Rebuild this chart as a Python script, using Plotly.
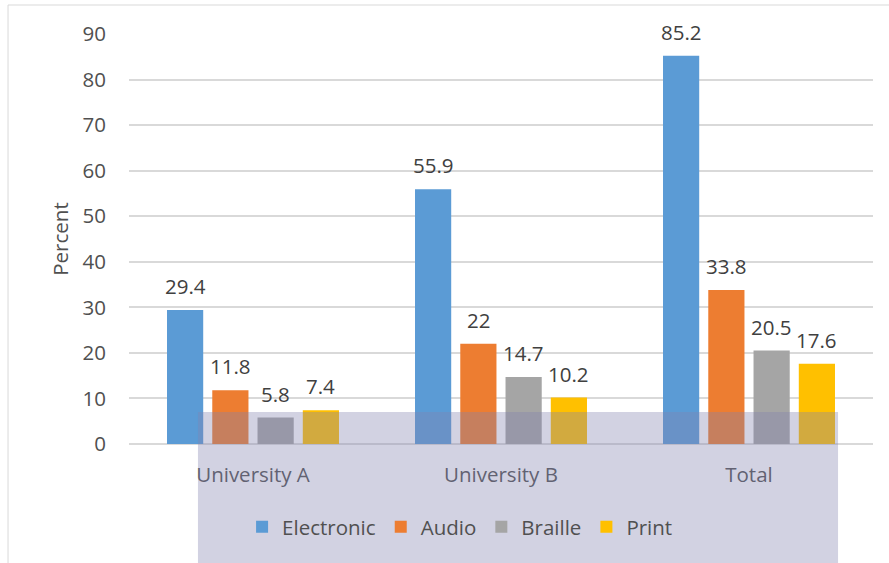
import plotly.graph_objects as go

categories = ["University A", "University B", "Total"]
series_names = ["Electronic", "Audio", "Braille", "Print"]
electronic = [29.4, 55.9, 85.2]
audio = [11.8, 22, 33.8]
braille = [5.8, 14.7, 20.5]
print_ = [7.4, 10.2, 17.6]
y_ticks = [0, 10, 20, 30, 40, 50, 60, 70, 80, 90]

values = [electronic, audio, braille, print_]
colors = ["#5B9BD5", "#ED7D31", "#A5A5A5", "#FFC000"]

FONT = "Open Sans"
FS = 20.5
TXT = "#505050"
BARGAP = 0.27

fig = go.Figure()
for name, vals, col in zip(series_names, values, colors):
    fig.add_trace(go.Bar(name=name, x=categories, y=vals, marker_color=col,
                         marker_line_width=0))

# data labels placed above each bar using the axis data coordinates
n = len(series_names)
step = (1 - BARGAP) / n
for j, vals in enumerate(values):
    for i, v in enumerate(vals):
        fig.add_annotation(x=i + (j - (n - 1) / 2) * step, y=v, xref="x", yref="y",
                           text=f"{v:g}", showarrow=False, yanchor="bottom",
                           yshift=8, font=dict(family=FONT, size=FS, color="#404040"))

fig.update_layout(
    width=889, height=563,
    margin=dict(l=129, r=16, t=34, b=119),
    paper_bgcolor="white", plot_bgcolor="white",
    barmode="group", bargap=BARGAP, bargroupgap=0.2,
    font=dict(family=FONT, size=FS, color=TXT),
    showlegend=True,
    legend=dict(orientation="h", x=0.445, xanchor="center", y=-0.202, yanchor="middle",
                font=dict(family=FONT, size=FS, color=TXT), itemwidth=30,
                bgcolor="rgba(0,0,0,0)", traceorder="normal"),
    xaxis=dict(showgrid=False, showline=False, ticks="", ticklabelstandoff=16,
               tickfont=dict(family=FONT, size=FS, color=TXT)),
    yaxis=dict(range=[0, 90], tickvals=y_ticks, showgrid=True, gridcolor="#D9D9D9",
               gridwidth=1.5, zeroline=True, zerolinecolor="#D9D9D9", zerolinewidth=1.5,
               showline=False, ticks="", ticklabelstandoff=22,
               tickfont=dict(family=FONT, size=FS, color=TXT),
               title=dict(text="Percent", standoff=8,
                          font=dict(family=FONT, size=FS, color=TXT))),
    shapes=[
        dict(type="rect", xref="paper", yref="paper", x0=-0.1626, x1=1.05, y0=-0.35, y1=1.0707,
             line=dict(color="#D9D9D9", width=1), fillcolor="rgba(0,0,0,0)", layer="below"),
        dict(type="rect", xref="paper", yref="paper", x0=0.0927, x1=0.953, y0=-0.35, y1=0.078,
             line=dict(width=0), fillcolor="rgba(130,130,175,0.36)", layer="above"),
    ],
)

fig.write_html("out.html")
